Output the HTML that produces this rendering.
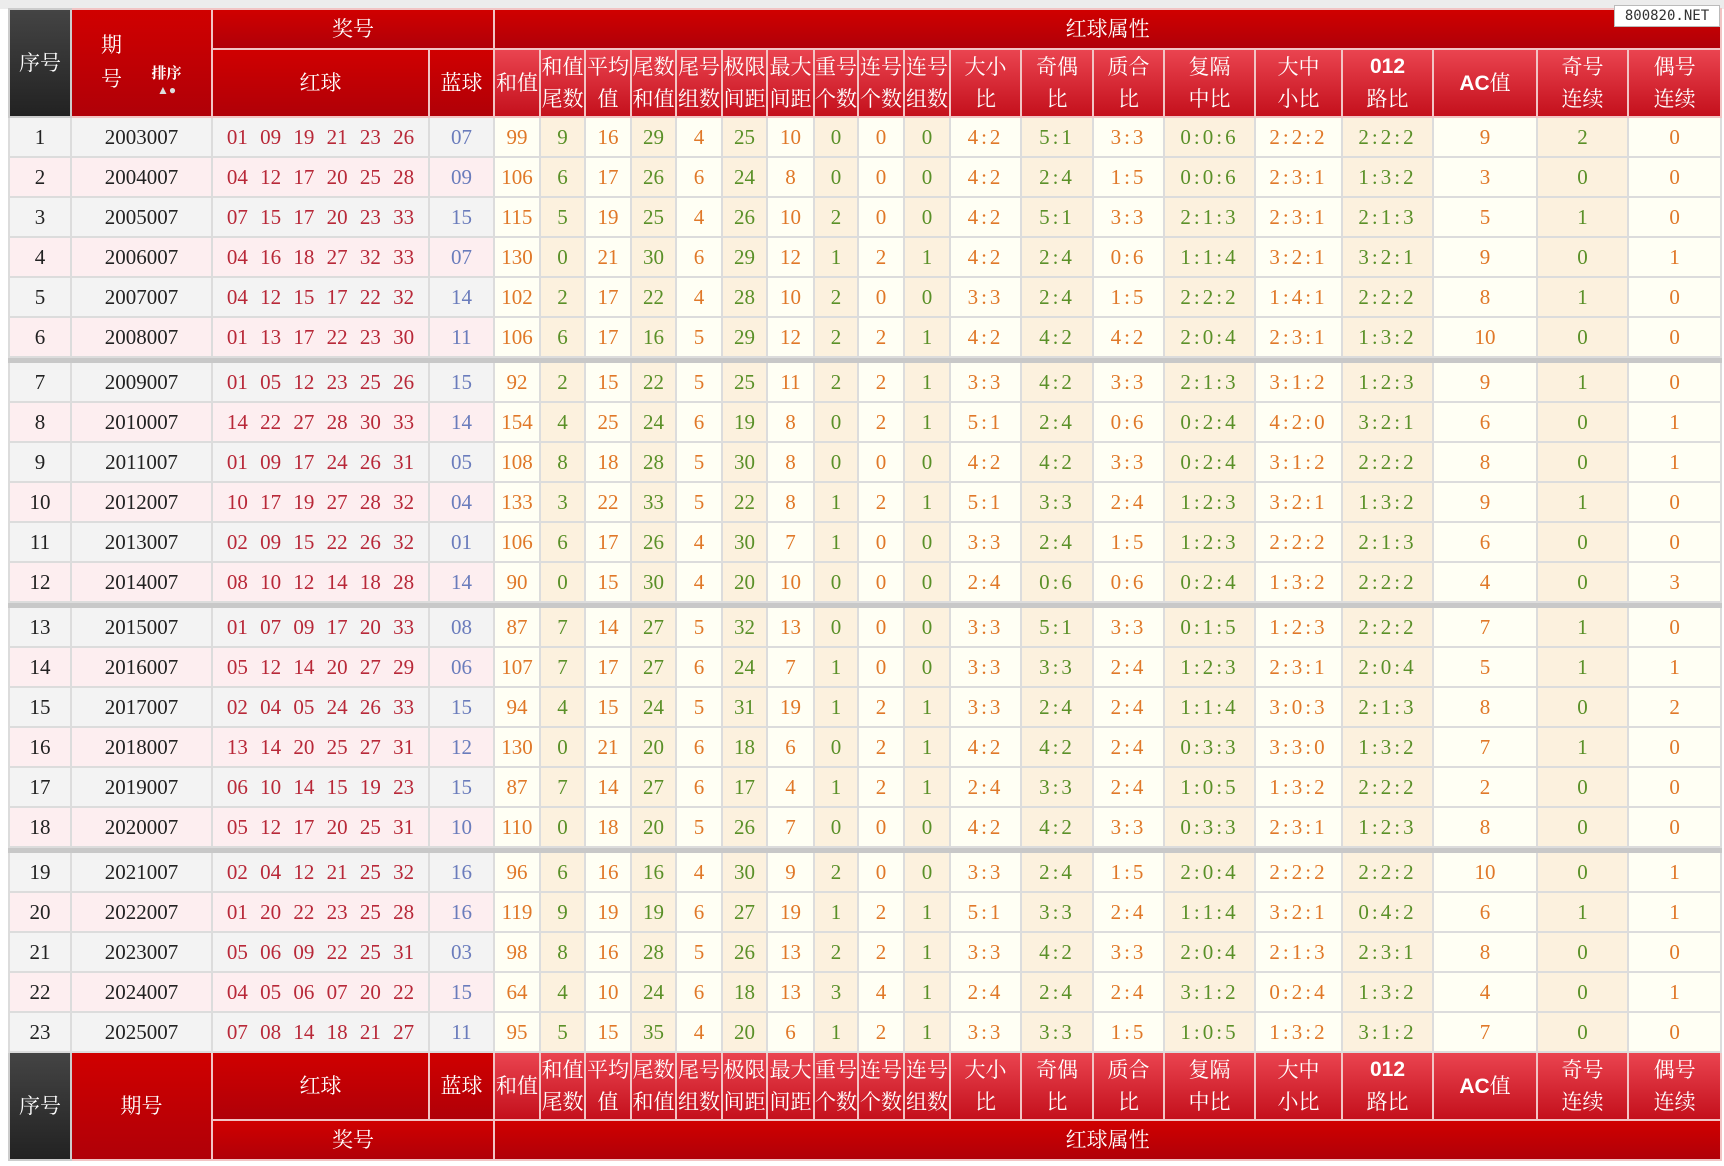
<!DOCTYPE html><html><head><meta charset="utf-8"><style>
body{margin:0;background:#fff;width:1724px;height:1166px;overflow:hidden;position:relative}
.top{position:absolute;left:0;top:0;width:1724px;height:9px;background:#ececec}
table{position:absolute;left:8px;top:8px;border-collapse:collapse;table-layout:fixed;width:1714px}
td{border:2px solid #dcdcdc;text-align:center;padding:0;font-family:"Liberation Serif","Noto Serif CJK SC",serif;font-size:21px;height:38px;white-space:nowrap;overflow:hidden}
.h td{border-color:#f2c4c4;color:#fff;font-size:21px;line-height:32px;background:linear-gradient(#ea4450,#c4101c)}
.h td.m{background:linear-gradient(#d00000,#b00008);}
.h td.d{background:linear-gradient(#444,#222);border-color:#ccc}
.h td.b{font-family:"Liberation Sans",sans-serif;font-weight:bold}
.h td.t{line-height:28px}
tr.r td:nth-child(1),tr.r td:nth-child(2){color:#222;background:#f3f3f3}
tr.r td:nth-child(3){color:#b82838;background:#f3f3f3;word-spacing:7px}
tr.r td:nth-child(4){color:#6a7cbc;background:#f3f3f3}
tr.r.e td:nth-child(-n+4){background:#fdeef0}
tr.r td:nth-child(odd){color:#e07828}
tr.r td:nth-child(n+5):nth-child(odd){background:#fffff4}
tr.r td:nth-child(n+5):nth-child(even){color:#5a9028;background:#fcf1de}
tr.r td:nth-child(n+15):nth-child(-n+20){letter-spacing:3px}
tr.r td:nth-child(1){color:#222}tr.r td:nth-child(3){color:#b82838}
tr.s td{height:3px;background:#c8c8c8;border-color:#c8c8c8}
.wm{position:absolute;left:1614px;top:5px;width:104px;height:20px;background:#fff;border:1px solid #bbb;font:14px "DejaVu Sans Mono",monospace;line-height:20px;text-align:center;color:#333}
.px{position:relative;display:inline-block;width:60px;font-size:15px;font-weight:bold;line-height:16px;vertical-align:middle}
</style></head><body><div class="top"></div>
<table>
<colgroup><col style="width:62px"><col style="width:141px"><col style="width:217px"><col style="width:65px"><col style="width:46px"><col style="width:45px"><col style="width:46px"><col style="width:45px"><col style="width:46px"><col style="width:45px"><col style="width:47px"><col style="width:44px"><col style="width:46px"><col style="width:46px"><col style="width:71px"><col style="width:72px"><col style="width:71px"><col style="width:91px"><col style="width:87px"><col style="width:91px"><col style="width:104px"><col style="width:91px"><col style="width:93px"></colgroup>
<tr class="h"><td class="d" rowspan="2">序号</td><td class="m" rowspan="2"><span style="display:inline-block;width:50px;line-height:34px">期<br>号</span><span class="px">排序<br><span style="font-size:12px;color:#ddd">▲●</span></span></td><td class="m t" colspan="2" style="height:31px">奖号</td><td class="m t" colspan="19">红球属性</td></tr>
<tr class="h"><td class="m" style="height:66px">红球</td><td class="m">蓝球</td><td>和值</td><td>和值<br>尾数</td><td>平均<br>值</td><td>尾数<br>和值</td><td>尾号<br>组数</td><td>极限<br>间距</td><td>最大<br>间距</td><td>重号<br>个数</td><td>连号<br>个数</td><td>连号<br>组数</td><td>大小<br>比</td><td>奇偶<br>比</td><td>质合<br>比</td><td>复隔<br>中比</td><td>大中<br>小比</td><td class="b">012<br><span style="font-family:'Liberation Serif','Noto Serif CJK SC',serif;font-weight:normal">路比</span></td><td class="b">AC<span style="font-family:'Noto Serif CJK SC',serif;font-weight:normal">值</span></td><td>奇号<br>连续</td><td>偶号<br>连续</td></tr>
<tr class="r"><td>1</td><td>2003007</td><td>01 09 19 21 23 26</td><td>07</td><td>99</td><td>9</td><td>16</td><td>29</td><td>4</td><td>25</td><td>10</td><td>0</td><td>0</td><td>0</td><td>4:2</td><td>5:1</td><td>3:3</td><td>0:0:6</td><td>2:2:2</td><td>2:2:2</td><td>9</td><td>2</td><td>0</td></tr>
<tr class="r e"><td>2</td><td>2004007</td><td>04 12 17 20 25 28</td><td>09</td><td>106</td><td>6</td><td>17</td><td>26</td><td>6</td><td>24</td><td>8</td><td>0</td><td>0</td><td>0</td><td>4:2</td><td>2:4</td><td>1:5</td><td>0:0:6</td><td>2:3:1</td><td>1:3:2</td><td>3</td><td>0</td><td>0</td></tr>
<tr class="r"><td>3</td><td>2005007</td><td>07 15 17 20 23 33</td><td>15</td><td>115</td><td>5</td><td>19</td><td>25</td><td>4</td><td>26</td><td>10</td><td>2</td><td>0</td><td>0</td><td>4:2</td><td>5:1</td><td>3:3</td><td>2:1:3</td><td>2:3:1</td><td>2:1:3</td><td>5</td><td>1</td><td>0</td></tr>
<tr class="r e"><td>4</td><td>2006007</td><td>04 16 18 27 32 33</td><td>07</td><td>130</td><td>0</td><td>21</td><td>30</td><td>6</td><td>29</td><td>12</td><td>1</td><td>2</td><td>1</td><td>4:2</td><td>2:4</td><td>0:6</td><td>1:1:4</td><td>3:2:1</td><td>3:2:1</td><td>9</td><td>0</td><td>1</td></tr>
<tr class="r"><td>5</td><td>2007007</td><td>04 12 15 17 22 32</td><td>14</td><td>102</td><td>2</td><td>17</td><td>22</td><td>4</td><td>28</td><td>10</td><td>2</td><td>0</td><td>0</td><td>3:3</td><td>2:4</td><td>1:5</td><td>2:2:2</td><td>1:4:1</td><td>2:2:2</td><td>8</td><td>1</td><td>0</td></tr>
<tr class="r e"><td>6</td><td>2008007</td><td>01 13 17 22 23 30</td><td>11</td><td>106</td><td>6</td><td>17</td><td>16</td><td>5</td><td>29</td><td>12</td><td>2</td><td>2</td><td>1</td><td>4:2</td><td>4:2</td><td>4:2</td><td>2:0:4</td><td>2:3:1</td><td>1:3:2</td><td>10</td><td>0</td><td>0</td></tr>
<tr class="s"><td colspan="23"></td></tr>
<tr class="r"><td>7</td><td>2009007</td><td>01 05 12 23 25 26</td><td>15</td><td>92</td><td>2</td><td>15</td><td>22</td><td>5</td><td>25</td><td>11</td><td>2</td><td>2</td><td>1</td><td>3:3</td><td>4:2</td><td>3:3</td><td>2:1:3</td><td>3:1:2</td><td>1:2:3</td><td>9</td><td>1</td><td>0</td></tr>
<tr class="r e"><td>8</td><td>2010007</td><td>14 22 27 28 30 33</td><td>14</td><td>154</td><td>4</td><td>25</td><td>24</td><td>6</td><td>19</td><td>8</td><td>0</td><td>2</td><td>1</td><td>5:1</td><td>2:4</td><td>0:6</td><td>0:2:4</td><td>4:2:0</td><td>3:2:1</td><td>6</td><td>0</td><td>1</td></tr>
<tr class="r"><td>9</td><td>2011007</td><td>01 09 17 24 26 31</td><td>05</td><td>108</td><td>8</td><td>18</td><td>28</td><td>5</td><td>30</td><td>8</td><td>0</td><td>0</td><td>0</td><td>4:2</td><td>4:2</td><td>3:3</td><td>0:2:4</td><td>3:1:2</td><td>2:2:2</td><td>8</td><td>0</td><td>1</td></tr>
<tr class="r e"><td>10</td><td>2012007</td><td>10 17 19 27 28 32</td><td>04</td><td>133</td><td>3</td><td>22</td><td>33</td><td>5</td><td>22</td><td>8</td><td>1</td><td>2</td><td>1</td><td>5:1</td><td>3:3</td><td>2:4</td><td>1:2:3</td><td>3:2:1</td><td>1:3:2</td><td>9</td><td>1</td><td>0</td></tr>
<tr class="r"><td>11</td><td>2013007</td><td>02 09 15 22 26 32</td><td>01</td><td>106</td><td>6</td><td>17</td><td>26</td><td>4</td><td>30</td><td>7</td><td>1</td><td>0</td><td>0</td><td>3:3</td><td>2:4</td><td>1:5</td><td>1:2:3</td><td>2:2:2</td><td>2:1:3</td><td>6</td><td>0</td><td>0</td></tr>
<tr class="r e"><td>12</td><td>2014007</td><td>08 10 12 14 18 28</td><td>14</td><td>90</td><td>0</td><td>15</td><td>30</td><td>4</td><td>20</td><td>10</td><td>0</td><td>0</td><td>0</td><td>2:4</td><td>0:6</td><td>0:6</td><td>0:2:4</td><td>1:3:2</td><td>2:2:2</td><td>4</td><td>0</td><td>3</td></tr>
<tr class="s"><td colspan="23"></td></tr>
<tr class="r"><td>13</td><td>2015007</td><td>01 07 09 17 20 33</td><td>08</td><td>87</td><td>7</td><td>14</td><td>27</td><td>5</td><td>32</td><td>13</td><td>0</td><td>0</td><td>0</td><td>3:3</td><td>5:1</td><td>3:3</td><td>0:1:5</td><td>1:2:3</td><td>2:2:2</td><td>7</td><td>1</td><td>0</td></tr>
<tr class="r e"><td>14</td><td>2016007</td><td>05 12 14 20 27 29</td><td>06</td><td>107</td><td>7</td><td>17</td><td>27</td><td>6</td><td>24</td><td>7</td><td>1</td><td>0</td><td>0</td><td>3:3</td><td>3:3</td><td>2:4</td><td>1:2:3</td><td>2:3:1</td><td>2:0:4</td><td>5</td><td>1</td><td>1</td></tr>
<tr class="r"><td>15</td><td>2017007</td><td>02 04 05 24 26 33</td><td>15</td><td>94</td><td>4</td><td>15</td><td>24</td><td>5</td><td>31</td><td>19</td><td>1</td><td>2</td><td>1</td><td>3:3</td><td>2:4</td><td>2:4</td><td>1:1:4</td><td>3:0:3</td><td>2:1:3</td><td>8</td><td>0</td><td>2</td></tr>
<tr class="r e"><td>16</td><td>2018007</td><td>13 14 20 25 27 31</td><td>12</td><td>130</td><td>0</td><td>21</td><td>20</td><td>6</td><td>18</td><td>6</td><td>0</td><td>2</td><td>1</td><td>4:2</td><td>4:2</td><td>2:4</td><td>0:3:3</td><td>3:3:0</td><td>1:3:2</td><td>7</td><td>1</td><td>0</td></tr>
<tr class="r"><td>17</td><td>2019007</td><td>06 10 14 15 19 23</td><td>15</td><td>87</td><td>7</td><td>14</td><td>27</td><td>6</td><td>17</td><td>4</td><td>1</td><td>2</td><td>1</td><td>2:4</td><td>3:3</td><td>2:4</td><td>1:0:5</td><td>1:3:2</td><td>2:2:2</td><td>2</td><td>0</td><td>0</td></tr>
<tr class="r e"><td>18</td><td>2020007</td><td>05 12 17 20 25 31</td><td>10</td><td>110</td><td>0</td><td>18</td><td>20</td><td>5</td><td>26</td><td>7</td><td>0</td><td>0</td><td>0</td><td>4:2</td><td>4:2</td><td>3:3</td><td>0:3:3</td><td>2:3:1</td><td>1:2:3</td><td>8</td><td>0</td><td>0</td></tr>
<tr class="s"><td colspan="23"></td></tr>
<tr class="r"><td>19</td><td>2021007</td><td>02 04 12 21 25 32</td><td>16</td><td>96</td><td>6</td><td>16</td><td>16</td><td>4</td><td>30</td><td>9</td><td>2</td><td>0</td><td>0</td><td>3:3</td><td>2:4</td><td>1:5</td><td>2:0:4</td><td>2:2:2</td><td>2:2:2</td><td>10</td><td>0</td><td>1</td></tr>
<tr class="r e"><td>20</td><td>2022007</td><td>01 20 22 23 25 28</td><td>16</td><td>119</td><td>9</td><td>19</td><td>19</td><td>6</td><td>27</td><td>19</td><td>1</td><td>2</td><td>1</td><td>5:1</td><td>3:3</td><td>2:4</td><td>1:1:4</td><td>3:2:1</td><td>0:4:2</td><td>6</td><td>1</td><td>1</td></tr>
<tr class="r"><td>21</td><td>2023007</td><td>05 06 09 22 25 31</td><td>03</td><td>98</td><td>8</td><td>16</td><td>28</td><td>5</td><td>26</td><td>13</td><td>2</td><td>2</td><td>1</td><td>3:3</td><td>4:2</td><td>3:3</td><td>2:0:4</td><td>2:1:3</td><td>2:3:1</td><td>8</td><td>0</td><td>0</td></tr>
<tr class="r e"><td>22</td><td>2024007</td><td>04 05 06 07 20 22</td><td>15</td><td>64</td><td>4</td><td>10</td><td>24</td><td>6</td><td>18</td><td>13</td><td>3</td><td>4</td><td>1</td><td>2:4</td><td>2:4</td><td>2:4</td><td>3:1:2</td><td>0:2:4</td><td>1:3:2</td><td>4</td><td>0</td><td>1</td></tr>
<tr class="r"><td>23</td><td>2025007</td><td>07 08 14 18 21 27</td><td>11</td><td>95</td><td>5</td><td>15</td><td>35</td><td>4</td><td>20</td><td>6</td><td>1</td><td>2</td><td>1</td><td>3:3</td><td>3:3</td><td>1:5</td><td>1:0:5</td><td>1:3:2</td><td>3:1:2</td><td>7</td><td>0</td><td>0</td></tr>
<tr class="h"><td class="d" rowspan="2">序号</td><td class="m" rowspan="2">期号</td><td class="m" style="height:66px">红球</td><td class="m">蓝球</td><td>和值</td><td>和值<br>尾数</td><td>平均<br>值</td><td>尾数<br>和值</td><td>尾号<br>组数</td><td>极限<br>间距</td><td>最大<br>间距</td><td>重号<br>个数</td><td>连号<br>个数</td><td>连号<br>组数</td><td>大小<br>比</td><td>奇偶<br>比</td><td>质合<br>比</td><td>复隔<br>中比</td><td>大中<br>小比</td><td class="b">012<br><span style="font-family:'Liberation Serif','Noto Serif CJK SC',serif;font-weight:normal">路比</span></td><td class="b">AC<span style="font-family:'Noto Serif CJK SC',serif;font-weight:normal">值</span></td><td>奇号<br>连续</td><td>偶号<br>连续</td></tr>
<tr class="h"><td class="m t" colspan="2" style="height:31px">奖号</td><td class="m t" colspan="19">红球属性</td></tr>
</table>
<div class="wm">800820.NET</div>
</body></html>
